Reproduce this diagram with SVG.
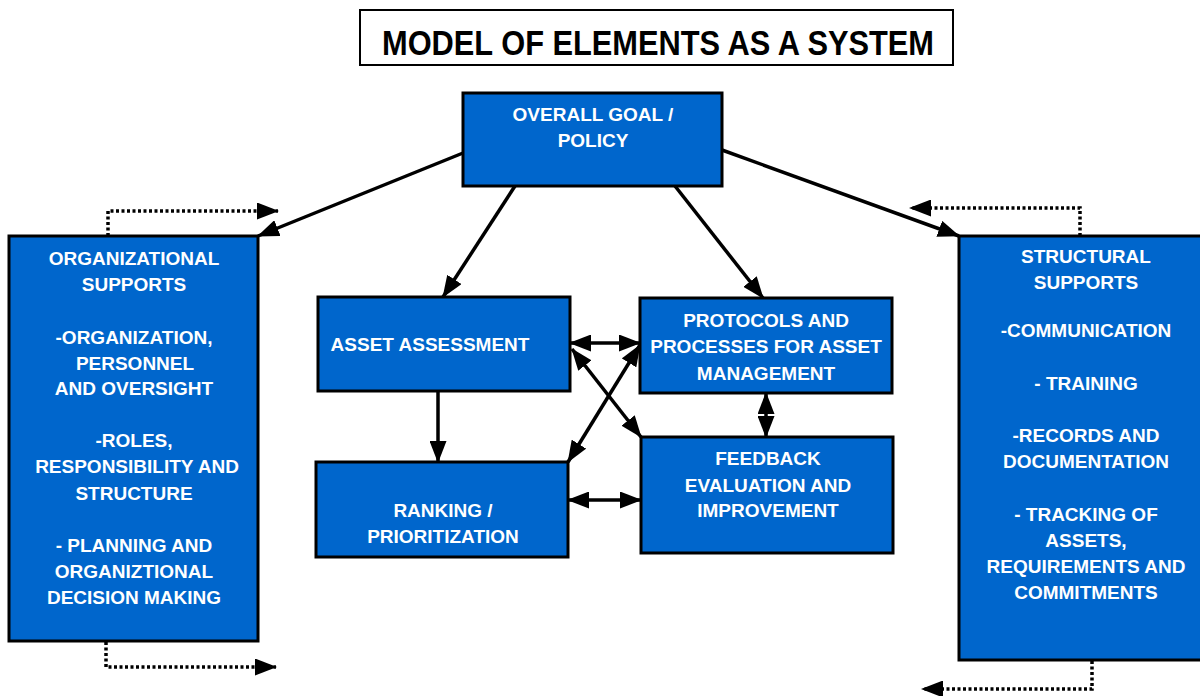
<svg xmlns="http://www.w3.org/2000/svg" width="1200" height="696" viewBox="0 0 1200 696">
<style>
.box{fill:#0066CC;stroke:#000;stroke-width:3}
.t{font-family:"Liberation Sans",Arial,sans-serif;font-size:19px;font-weight:bold;fill:#fff;text-anchor:middle}
.ln{stroke:#000;stroke-width:3.5;fill:none}
.dt{stroke:#000;stroke-width:3.5;fill:none;stroke-dasharray:3 2.5}
</style>
<defs>
<marker id="ah" markerUnits="userSpaceOnUse" markerWidth="22" markerHeight="17" refX="21" refY="8.5" orient="auto-start-reverse" viewBox="0 0 22 17">
<path d="M0,0 L22,8.5 L0,17 z" fill="#000"/>
</marker>
</defs>
<g id="title">
<rect x="360" y="10" width="593" height="55" fill="#fff" stroke="#000" stroke-width="2"/>
<text x="658" y="55" font-family="'Liberation Sans',Arial,sans-serif" font-size="35" font-weight="bold" text-anchor="middle" textLength="552" lengthAdjust="spacingAndGlyphs">MODEL OF ELEMENTS AS A SYSTEM</text>
</g>
<g id="connectors">
<line class="ln" x1="463" y1="153" x2="258" y2="236" marker-end="url(#ah)"/>
<line class="ln" x1="722" y1="150" x2="959" y2="236" marker-end="url(#ah)"/>
<line class="ln" x1="515" y1="186" x2="443" y2="297" marker-end="url(#ah)"/>
<line class="ln" x1="675" y1="186" x2="763" y2="298" marker-end="url(#ah)"/>
<line class="ln" x1="438" y1="391" x2="438" y2="462" marker-end="url(#ah)"/>
<line class="ln" x1="766" y1="393" x2="766" y2="437" marker-start="url(#ah)" marker-end="url(#ah)"/>
<line class="ln" x1="570" y1="343" x2="640" y2="343" marker-start="url(#ah)" marker-end="url(#ah)"/>
<line class="ln" x1="568" y1="500" x2="641" y2="500" marker-start="url(#ah)" marker-end="url(#ah)"/>
<line class="ln" x1="572" y1="349" x2="641" y2="437" marker-start="url(#ah)" marker-end="url(#ah)"/>
<line class="ln" x1="568" y1="462" x2="640" y2="345" marker-start="url(#ah)" marker-end="url(#ah)"/>
<polyline class="dt" points="108,236 108,211 278,211" marker-end="url(#ah)"/>
<polyline class="dt" points="106,642 106,667 276,667" marker-end="url(#ah)"/>
<polyline class="dt" points="1080,236 1080,208 910,208" marker-end="url(#ah)"/>
<polyline class="dt" points="1092,661 1092,689 922,689" marker-end="url(#ah)"/>
</g>
<g id="goal">
<rect class="box" x="463" y="93" width="259" height="93"/>
<text class="t" x="593" y="121">OVERALL GOAL /</text>
<text class="t" x="593" y="147">POLICY</text>
</g>
<g id="org">
<rect class="box" x="9" y="236" width="249" height="405"/>
<text class="t" x="134" y="265">ORGANIZATIONAL</text>
<text class="t" x="134" y="291">SUPPORTS</text>
<text class="t" x="134" y="344">-ORGANIZATION,</text>
<text class="t" x="135" y="370">PERSONNEL</text>
<text class="t" x="134" y="395">AND OVERSIGHT</text>
<text class="t" x="134" y="447">-ROLES,</text>
<text class="t" x="137" y="473">RESPONSIBILITY AND</text>
<text class="t" x="134" y="500">STRUCTURE</text>
<text class="t" x="134" y="552">- PLANNING AND</text>
<text class="t" x="134" y="578">ORGANIZTIONAL</text>
<text class="t" x="134" y="604">DECISION MAKING</text>
</g>
<g id="struct">
<rect class="box" x="959" y="236" width="245" height="424"/>
<text class="t" x="1086" y="263">STRUCTURAL</text>
<text class="t" x="1086" y="289">SUPPORTS</text>
<text class="t" x="1086" y="337">-COMMUNICATION</text>
<text class="t" x="1086" y="390">- TRAINING</text>
<text class="t" x="1086" y="442">-RECORDS AND</text>
<text class="t" x="1086" y="468">DOCUMENTATION</text>
<text class="t" x="1086" y="521">- TRACKING OF</text>
<text class="t" x="1086" y="547">ASSETS,</text>
<text class="t" x="1086" y="573">REQUIREMENTS AND</text>
<text class="t" x="1086" y="599">COMMITMENTS</text>
</g>
<g id="asset">
<rect class="box" x="318" y="297" width="252" height="94"/>
<text class="t" x="430" y="351">ASSET ASSESSMENT</text>
</g>
<g id="protocols">
<rect class="box" x="640" y="298" width="252" height="95"/>
<text class="t" x="766" y="327">PROTOCOLS AND</text>
<text class="t" x="766" y="353">PROCESSES FOR ASSET</text>
<text class="t" x="766" y="380">MANAGEMENT</text>
</g>
<g id="ranking">
<rect class="box" x="316" y="462" width="252" height="95"/>
<text class="t" x="443" y="517">RANKING /</text>
<text class="t" x="443" y="543">PRIORITIZATION</text>
</g>
<g id="feedback">
<rect class="box" x="641" y="437" width="252" height="116"/>
<text class="t" x="768" y="465">FEEDBACK</text>
<text class="t" x="768" y="492">EVALUATION AND</text>
<text class="t" x="768" y="517">IMPROVEMENT</text>
</g>
</svg>
